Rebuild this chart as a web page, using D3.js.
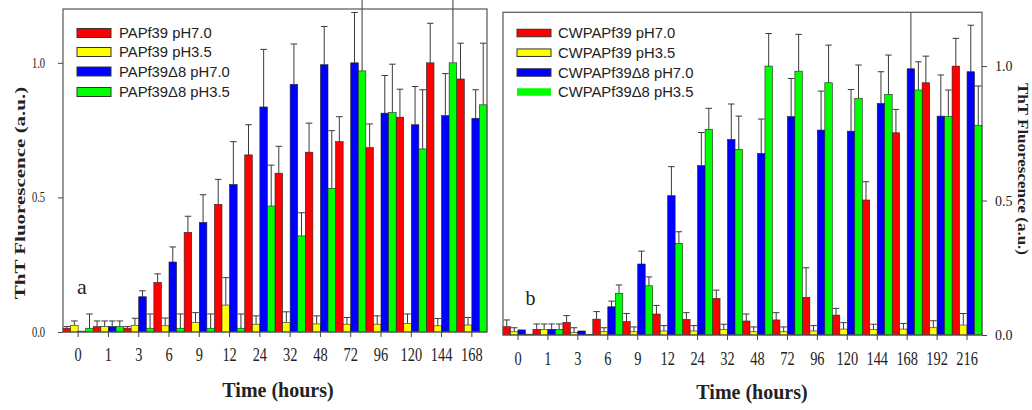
<!DOCTYPE html>
<html><head><meta charset="utf-8">
<script src="https://cdn.jsdelivr.net/npm/d3@7"></script>
<style>body{margin:0;background:#fff}</style>
</head><body>
<svg id="chart" width="1032" height="410"></svg>
<script>
// ---------- DATA ----------
const catsA = ["0","1","3","6","9","12","24","32","48","72","96","120","144","168"];
const namesA = ["PAPf39 pH7.0","PAPf39 pH3.5","PAPf39\u03948 pH7.0","PAPf39\u03948 pH3.5"];
const redA    = [0.014,0.02,0.014,0.184,0.37,0.474,0.658,0.59,0.668,0.707,0.685,0.798,1.0,0.94];
const redErrA = [0.006,0.021,0.006,0.032,0.06,0.093,0.112,0.10,0.108,0.093,0.088,0.104,0.147,0.133];
const yelA    = [0.025,0.02,0.025,0.023,0.035,0.10,0.029,0.036,0.03,0.029,0.029,0.032,0.023,0.026];
const yelErrA = [0.016,0.021,0.026,0.029,0.037,0.102,0.031,0.039,0.03,0.025,0.031,0.035,0.027,0.028];
const bluA    = [0.003,0.02,0.131,0.26,0.407,0.548,0.836,0.92,0.993,1.0,0.813,0.77,0.804,0.794];
const bluErrA = [0,0.021,0.022,0.056,0.103,0.159,0.214,0.15,0.142,0.187,0.14,0.142,0.156,0.106];
const grnA    = [0.014,0.02,0.014,0.014,0.014,0.014,0.468,0.357,0.534,0.97,0.815,0.68,1.0,0.844];
const grnErrA = [0.053,0.021,0.053,0.053,0.053,0.053,0.152,0.086,0.214,0.29,0.18,0.22,0.26,0.229];

const catsB = ["0","1","3","6","9","12","24","32","48","72","96","120","144","168","192","216"];
const namesB = ["CWPAPf39 pH7.0","CWPAPf39 pH3.5","CWPAPf39\u03948 pH7.0","CWPAPf39\u03948 pH3.5"];
const redB    = [0.031,0.021,0.047,0.059,0.05,0.078,0.058,0.136,0.052,0.056,0.14,0.074,0.502,0.752,0.938,1.0];
const redErrB = [0.025,0.02,0.025,0.028,0.03,0.032,0.025,0.031,0.026,0.027,0.11,0.025,0.068,0.087,0.099,0.103];
const yelB    = [0.012,0.021,0.01,0.012,0.012,0.015,0.015,0.02,0.012,0.012,0.015,0.022,0.02,0.022,0.027,0.037];
const yelErrB = [0.015,0.02,0.017,0.015,0.018,0.02,0.02,0.02,0.018,0.018,0.02,0.024,0.02,0.021,0.026,0.043];
const bluB    = [0.019,0.021,0.015,0.105,0.264,0.518,0.63,0.727,0.675,0.812,0.762,0.758,0.861,0.99,0.814,0.979];
const bluErrB = [0,0.02,0,0.021,0.048,0.108,0.123,0.132,0.128,0.142,0.145,0.155,0.118,0.215,0.153,0.173];
const grnB    = [0.003,0.021,0.002,0.155,0.183,0.341,0.765,0.69,1.0,0.981,0.938,0.88,0.895,0.911,0.812,0.78];
const grnErrB = [0,0.02,0,0.031,0.033,0.043,0.078,0.124,0.121,0.137,0.14,0.124,0.146,0.105,0.099,0.146];

const colors = ["#ff0000","#ffff00","#0000ff","#00ff00"];
const yTicks = [0, 0.5, 1.0];
const yDomain = [0, 1.2];
const xTitle = "Time (hours)";
const yTitle = "ThT Fluorescence (a.u.)";

// ---------- DRAW ----------
const svg = d3.select("#chart");
const serif = "'Liberation Serif','Times New Roman',serif";
const sans = "'Liberation Sans',Arial,sans-serif";

function panel(cfg){
  const g = svg.append("g");
  const x = d3.scaleBand().domain(cfg.cats).range([cfg.left, cfg.right]).padding(0);
  const xi = d3.scaleBand().domain(d3.range(4)).range([0, x.bandwidth()]).padding(0);
  const y = d3.scaleLinear().domain(yDomain).range([cfg.bottom, cfg.top]);
  const vals = cfg.series, errs = cfg.errs;

  if (cfg.clip) {
    svg.append("clipPath").attr("id", cfg.id+"clip").append("rect")
      .attr("x", cfg.left).attr("y", cfg.top).attr("width", cfg.right-cfg.left).attr("height", cfg.bottom-cfg.top);
  }
  const data = [];
  vals.forEach((arr, s) => arr.forEach((v, i) => data.push({s, cat: cfg.cats[i], v, e: errs[s][i]})));

  const eb = g.append("g").attr("stroke", "#3a3a3a").attr("stroke-width", 1).attr("fill","none");
  if (cfg.clip) eb.attr("clip-path", `url(#${cfg.id}clip)`);
  const bw = xi.bandwidth();
  data.filter(d => d.e > 0).forEach(d => {
    const cx = x(d.cat) + xi(d.s) + bw/2;
    eb.append("line").attr("x1", cx).attr("x2", cx).attr("y1", y(d.v)).attr("y2", y(d.v + d.e));
    eb.append("line").attr("x1", cx - bw/2 + 0.5).attr("x2", cx + bw/2 - 0.5)
      .attr("y1", y(d.v + d.e)).attr("y2", y(d.v + d.e));
  });

  g.append("g").selectAll("rect").data(data).join("rect")
    .attr("x", d => x(d.cat) + xi(d.s))
    .attr("width", bw)
    .attr("y", d => y(d.v))
    .attr("height", d => y(0) - y(d.v))
    .attr("fill", d => colors[d.s])
    .attr("stroke", "#222").attr("stroke-width", 0.6);

  // frame
  g.append("rect").attr("x", cfg.left).attr("y", cfg.top)
    .attr("width", cfg.right - cfg.left).attr("height", cfg.bottom - cfg.top)
    .attr("fill", "none").attr("stroke", "#555").attr("stroke-width", 1.2);

  // x axis
  const xa = g.append("g").attr("transform", `translate(0,${cfg.bottom})`)
    .call(d3.axisBottom(x).tickSize(5).tickSizeOuter(0).tickPadding(cfg.xPad));
  xa.select(".domain").remove();
  xa.selectAll("line").attr("stroke", "#444");
  xa.selectAll("text").attr("font-family", serif).attr("font-size", 18).attr("fill", "#222")
    .attr("transform", "scale(0.8,1)");

  // y axis
  const ya = g.append("g").attr("transform", `translate(${cfg.side === "left" ? cfg.left : cfg.right},0)`)
    .call((cfg.side === "left" ? d3.axisLeft(y) : d3.axisRight(y))
      .tickValues(yTicks).tickFormat(d3.format(".1f")).tickSize(5).tickSizeOuter(0));
  ya.select(".domain").remove();
  ya.selectAll("line").attr("stroke", "#444");
  ya.selectAll("text").attr("font-family", serif).attr("font-size", cfg.yFs).attr("fill", "#222")
    .attr("x", cfg.yLabX / cfg.yScale).attr("transform", `scale(${cfg.yScale},1)`);

  // legend
  const lg = g.append("g");
  cfg.names.forEach((n, s) => {
    const cy = cfg.legY[s];
    lg.append("rect").attr("x", cfg.legX).attr("y", cy - cfg.swH/2).attr("width", 34).attr("height", cfg.swH)
      .attr("fill", colors[s])
      .attr("stroke", (cfg.noGreenStroke && s === 3) ? "none" : "#333").attr("stroke-width", 1);
    lg.append("text").attr("x", cfg.legX + cfg.legTextDx).attr("y", cy + 5)
      .attr("font-family", sans).attr("font-size", 14.8).attr("fill", "#222").text(n);
  });

  // panel letter
  g.append("text").attr("x", cfg.letterX).attr("y", cfg.letterY).attr("font-family", serif)
    .attr("font-size", cfg.letterFs).attr("fill", "#222").text(cfg.letter);

  // x title
  g.append("text").attr("x", cfg.xTitleX).attr("y", cfg.xTitleY).attr("text-anchor", "middle")
    .attr("font-family", serif).attr("font-weight", "bold").attr("font-size", 20).attr("fill", "#222").text(xTitle);

  // y title
  g.append("text").attr("text-anchor", "middle")
    .attr("transform", cfg.yTitleTf)
    .attr("font-family", serif).attr("font-weight", "bold").attr("font-size", cfg.yTitleFs).attr("fill", "#222").text(yTitle);
}

panel({
  id: "a", cats: catsA, names: namesA,
  series: [redA, yelA, bluA, grnA], errs: [redErrA, yelErrA, bluErrA, grnErrA],
  left: 63, right: 487, top: 9, bottom: 332, side: "left", clip: false,
  xPad: 11.5, yFs: 14, yScale: 0.75, yLabX: -18,
  legX: 77, legY: [33, 52, 71.5, 92], swH: 9, legTextDx: 42, noGreenStroke: false,
  letter: "a", letterX: 77, letterY: 294, letterFs: 22,
  xTitleX: 278, xTitleY: 397,
  yTitleFs: 21, yTitleTf: "translate(25,193) rotate(-90) scale(1,0.72)"
});

panel({
  id: "b", cats: catsB, names: namesB,
  series: [redB, yelB, bluB, grnB], errs: [redErrB, yelErrB, bluErrB, grnErrB],
  left: 503, right: 982, top: 12.3, bottom: 335, side: "right", clip: true,
  xPad: 12, yFs: 14, yScale: 1, yLabX: 13,
  legX: 517, legY: [33, 52.7, 72.5, 92], swH: 7.5, legTextDx: 41, noGreenStroke: true,
  letter: "b", letterX: 525.5, letterY: 305, letterFs: 20,
  xTitleX: 752, xTitleY: 399,
  yTitleFs: 17, yTitleTf: "translate(1017.5,169) rotate(90) scale(1,0.82)"
});
</script>
</body></html>
